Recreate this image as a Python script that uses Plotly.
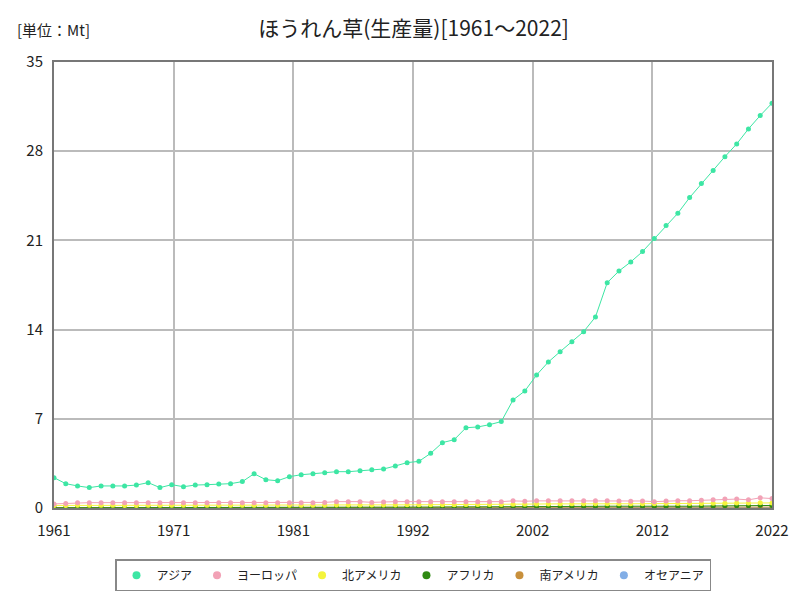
import plotly.graph_objects as go

years = list(range(1961, 2023))

asia = [2.38, 1.91, 1.73, 1.60, 1.73, 1.73, 1.73, 1.80, 1.99, 1.60,
        1.83, 1.67, 1.80, 1.83, 1.88, 1.91, 2.07, 2.69, 2.22, 2.14,
        2.46, 2.61, 2.69, 2.77, 2.85, 2.85, 2.93, 3.01, 3.06, 3.30,
        3.56, 3.66, 4.29, 5.13, 5.36, 6.30, 6.36, 6.54, 6.78, 8.48,
        9.18, 10.44, 11.46, 12.27, 13.05, 13.84, 14.99, 17.68, 18.60, 19.31,
        20.12, 21.14, 22.16, 23.13, 24.36, 25.46, 26.48, 27.57, 28.57, 29.75,
        30.80, 31.77]

europe = [0.32, 0.36, 0.42, 0.42, 0.42, 0.42, 0.42, 0.42, 0.42, 0.42,
          0.42, 0.42, 0.42, 0.42, 0.42, 0.42, 0.42, 0.42, 0.42, 0.42,
          0.42, 0.42, 0.42, 0.44, 0.50, 0.50, 0.50, 0.44, 0.48, 0.50,
          0.50, 0.50, 0.50, 0.50, 0.50, 0.50, 0.50, 0.50, 0.50, 0.56,
          0.53, 0.56, 0.56, 0.56, 0.56, 0.56, 0.56, 0.56, 0.55, 0.53,
          0.55, 0.50, 0.55, 0.57, 0.57, 0.60, 0.64, 0.70, 0.70, 0.64,
          0.80, 0.74]

n_america = [0.20, 0.20, 0.21, 0.21, 0.21, 0.21, 0.20, 0.20, 0.21, 0.21,
             0.21, 0.21, 0.21, 0.21, 0.21, 0.21, 0.21, 0.22, 0.22, 0.22,
             0.22, 0.22, 0.22, 0.22, 0.23, 0.23, 0.23, 0.23, 0.24, 0.24,
             0.25, 0.25, 0.26, 0.26, 0.26, 0.27, 0.27, 0.27, 0.28, 0.30,
             0.30, 0.31, 0.32, 0.33, 0.33, 0.34, 0.34, 0.33, 0.33, 0.33,
             0.34, 0.34, 0.35, 0.35, 0.36, 0.36, 0.38, 0.38, 0.40, 0.40,
             0.42, 0.40]

africa = [0.02, 0.02, 0.02, 0.02, 0.02, 0.02, 0.02, 0.02, 0.02, 0.02,
          0.03, 0.03, 0.03, 0.03, 0.03, 0.03, 0.03, 0.03, 0.03, 0.03,
          0.04, 0.04, 0.04, 0.04, 0.04, 0.05, 0.05, 0.05, 0.05, 0.06,
          0.06, 0.07, 0.07, 0.08, 0.08, 0.09, 0.09, 0.10, 0.10, 0.11,
          0.11, 0.12, 0.12, 0.12, 0.13, 0.13, 0.13, 0.14, 0.13, 0.13,
          0.13, 0.13, 0.14, 0.14, 0.14, 0.15, 0.16, 0.17, 0.17, 0.18,
          0.21, 0.20]

s_america = [0.03, 0.03, 0.03, 0.03, 0.03, 0.03, 0.03, 0.03, 0.03, 0.03,
             0.04, 0.04, 0.04, 0.04, 0.04, 0.04, 0.04, 0.04, 0.04, 0.04,
             0.04, 0.04, 0.04, 0.04, 0.05, 0.05, 0.05, 0.05, 0.05, 0.05,
             0.05, 0.05, 0.05, 0.05, 0.05, 0.05, 0.05, 0.05, 0.05, 0.06,
             0.06, 0.06, 0.06, 0.06, 0.06, 0.06, 0.06, 0.06, 0.06, 0.06,
             0.06, 0.06, 0.06, 0.06, 0.07, 0.07, 0.07, 0.07, 0.07, 0.07,
             0.07, 0.07]

oceania = [0.01, 0.01, 0.01, 0.01, 0.01, 0.01, 0.01, 0.01, 0.01, 0.01,
           0.01, 0.01, 0.01, 0.01, 0.01, 0.01, 0.01, 0.01, 0.01, 0.01,
           0.01, 0.01, 0.01, 0.01, 0.01, 0.01, 0.01, 0.01, 0.01, 0.01,
           0.01, 0.01, 0.01, 0.01, 0.01, 0.01, 0.01, 0.01, 0.01, 0.02,
           0.02, 0.02, 0.02, 0.02, 0.02, 0.02, 0.02, 0.02, 0.02, 0.02,
           0.02, 0.02, 0.02, 0.02, 0.02, 0.02, 0.02, 0.02, 0.02, 0.02,
           0.02, 0.02]

series = [
    ("アジア", asia, "#3de6a4"),
    ("ヨーロッパ", europe, "#f2a2b6"),
    ("北アメリカ", n_america, "#f4f43c"),
    ("アフリカ", africa, "#2f8a12"),
    ("南アメリカ", s_america, "#c8903c"),
    ("オセアニア", oceania, "#82aee6"),
]

x_tickvals = [1961 + 61 * k / 6 for k in range(7)]
x_ticktext = ["1961", "1971", "1981", "1992", "2002", "2012", "2022"]
y_tickvals = [0, 7, 14, 21, 28, 35]

FONT = "Noto Sans CJK JP"

fig = go.Figure()
# draw back-to-front so Asia on top
for name, vals, color in reversed(series):
    fig.add_trace(go.Scatter(
        x=years, y=vals, mode="lines+markers", name=name,
        line=dict(color=color, width=1),
        marker=dict(color=color, size=5),
        showlegend=False, hoverinfo="x+y+name",
    ))
for name, vals, color in series:
    fig.add_trace(go.Scatter(
        x=[None], y=[None], mode="markers", name=name,
        marker=dict(color=color, size=8), showlegend=True,
    ))

fig.update_layout(
    width=800, height=600,
    margin=dict(l=54, r=28, t=62, b=92, autoexpand=False),
    paper_bgcolor="white", plot_bgcolor="white",
    font=dict(family=FONT, size=14, color="#222"),
    title=dict(text="ほうれん草(生産量)[1961～2022]", x=0.517, xanchor="center",
               y=0.953, yanchor="middle", font=dict(size=21, family=FONT, color="#222")),
    legend=dict(orientation="h", x=0.5, xanchor="center", y=-0.115, yanchor="top",
                bordercolor="#888", borderwidth=1.5, font=dict(size=12, family=FONT),
                itemwidth=30, tracegroupgap=0, traceorder="normal"),
    showlegend=True,
)
fig.add_annotation(text="[単位：Mt]", xref="paper", yref="paper", x=-0.055, y=1.072,
                   xanchor="left", yanchor="middle", showarrow=False,
                   font=dict(size=15, family=FONT, color="#222"))

fig.update_xaxes(range=[1961, 2022], tickvals=x_tickvals, ticktext=x_ticktext,
                 showgrid=True, gridcolor="#bbbbbb", gridwidth=1.5,
                 showline=True, linecolor="#777777", linewidth=2, mirror=True,
                 ticks="", zeroline=False, tickfont=dict(size=15),
                 ticklabelstandoff=8, automargin=False)
fig.update_yaxes(range=[0, 35], tickvals=y_tickvals,
                 showgrid=True, gridcolor="#bbbbbb", gridwidth=1.5,
                 showline=True, linecolor="#777777", linewidth=2, mirror=True,
                 ticks="", zeroline=False, tickfont=dict(size=15),
                 ticklabelstandoff=6, automargin=False)

fig.write_html("out.html")
